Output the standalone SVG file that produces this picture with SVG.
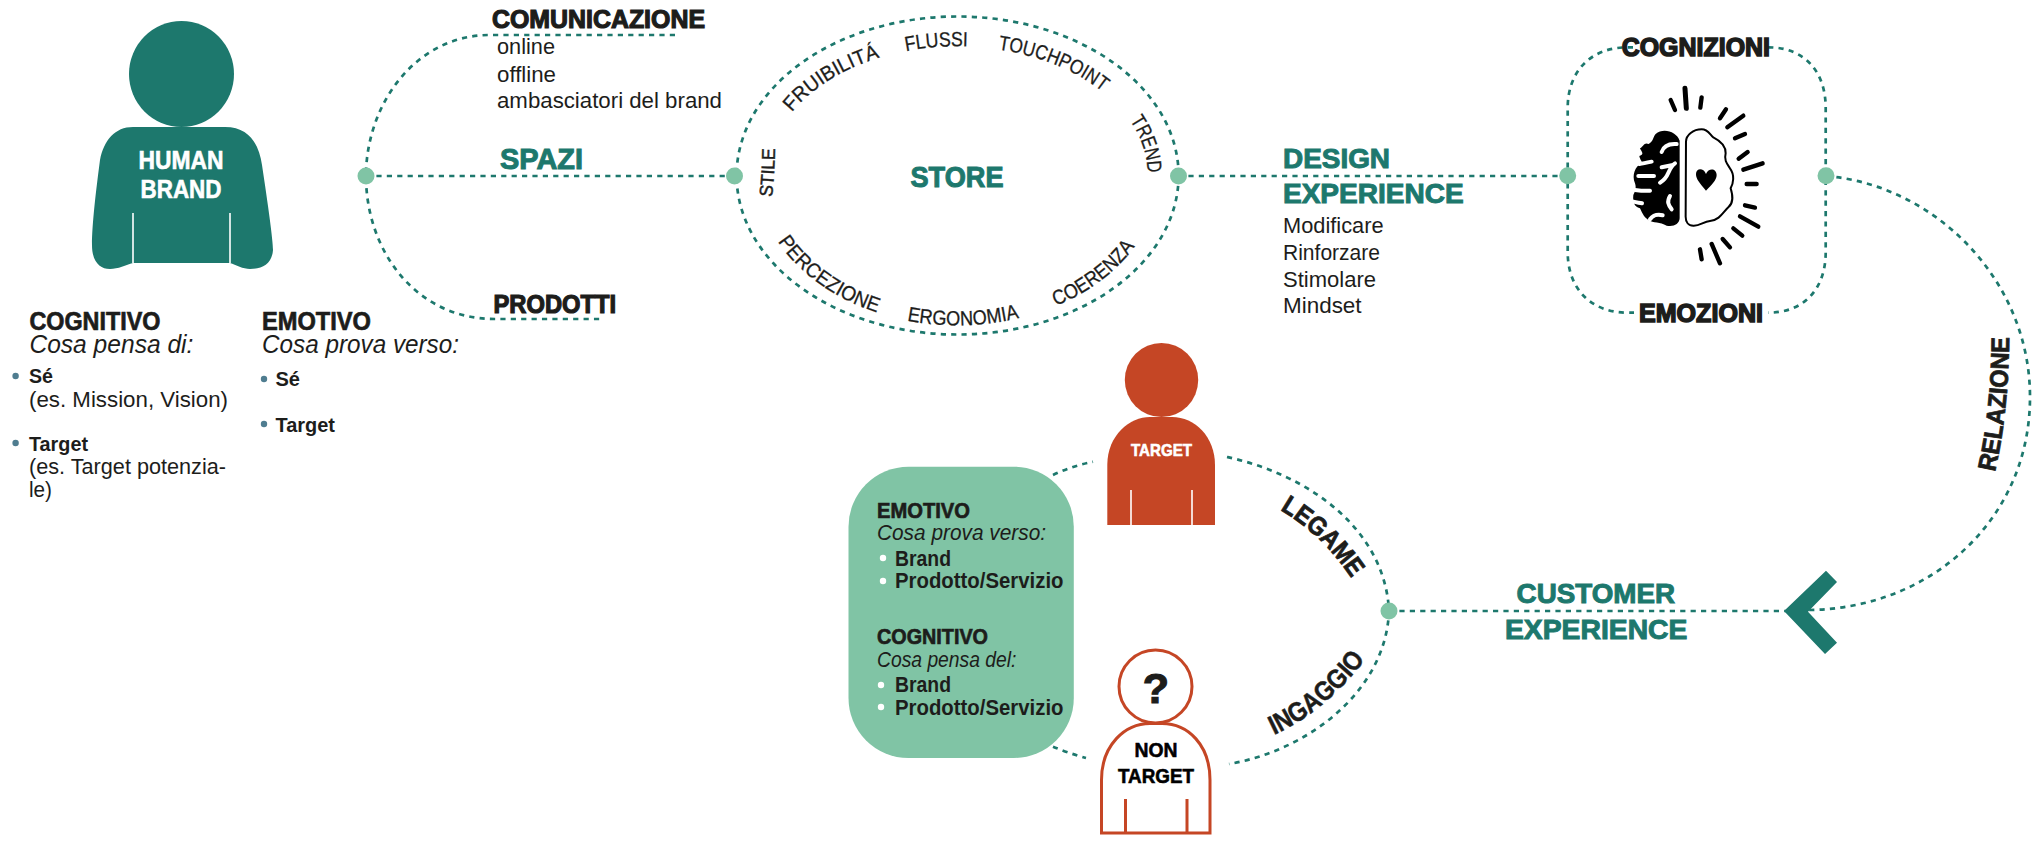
<svg xmlns="http://www.w3.org/2000/svg" xmlns:xlink="http://www.w3.org/1999/xlink" width="2034" height="842" viewBox="0 0 2034 842">
<style>
text{font-family:"Liberation Sans Narrow","Liberation Sans",Arial,sans-serif;fill:#1d1d1b}
.d{fill:none;stroke:#1d786d;stroke-width:2.7;stroke-dasharray:5.2 5.2}
.n{fill:#80c4a5}
.h{font-weight:bold;stroke:#1d1d1b;stroke-width:.7}
.hv{font-family:"Liberation Sans",Arial,sans-serif;font-weight:bold;stroke:#1d1d1b;stroke-width:1.2;font-size:25.5px}
.t{font-family:"Liberation Sans",Arial,sans-serif;font-weight:bold;fill:#1d786d;stroke:#1d786d;stroke-width:1}
.b{font-weight:bold}
.r{font-size:22px}
.i{font-style:italic;font-size:25.5px}
.c{font-size:20.5px;stroke:#1d1d1b;stroke-width:.3}
.w{fill:#fff;stroke:#fff;stroke-width:.6;font-weight:bold;text-anchor:middle}
.bl{fill:#4f7d90}
.bw{fill:#fff}
.o{fill:#c54625}
</style>
<defs>
<path id="pFr" d="M792,112.3 A190,129 0 0 1 892,54"/>
<path id="pFl" d="M906,51.3 A190,129 0 0 1 975,46.6"/>
<path id="pTo" d="M998,49.5 A190,129 0 0 1 1112,100"/>
<path id="pTr" d="M1130,120.6 A190,129 0 0 1 1147.6,180"/>
<path id="pSt" d="M772,197 Q775,172 775,140"/>
<path id="pPe" d="M778,241.6 A200,150 0 0 0 885,315"/>
<path id="pEr" d="M907,320.6 A200,150 0 0 0 1030,315"/>
<path id="pCo" d="M1056,306 A200,150 0 0 0 1145,230"/>
<path id="pRe" d="M1995,472 Q2010,405 2009,325"/>
<path id="pLe" d="M1280,510 Q1324,535 1356,585"/>
<path id="pIn" d="M1274,735 Q1332,708 1372,650"/>
</defs>
<g id="connectors">
<path class="d" d="M675,35 H490 C415,35 366,105 366,176 C366,250 415,319 495,319 H604"/>
<path class="d" d="M366,176 H735"/>
<ellipse class="d" cx="957.6" cy="175.5" rx="221" ry="159"/>
<path class="d" d="M1178,176 H1568"/>
<path class="d" d="M1633,47.3 H1628 C1590,47.3 1567.7,72 1567.7,108 V252 C1567.7,288 1590,312.7 1628,312.7 H1634"/>
<path class="d" d="M1768,47.3 C1805,47.3 1825.7,72 1825.7,108 V252 C1825.7,288 1805,312.7 1768,312.7"/>
<path class="d" d="M1826,176 C1935,185 2030,280 2030,397 C2030,520 1930,610 1806,610"/>
<path class="d" d="M1389,611 H1790"/>
<path class="d" d="M1227,457 C1310,475 1385,530 1389,611 C1386,690 1310,750 1229,764"/>
<path class="d" d="M1053,475 Q1072,466 1093,461.7"/>
<path class="d" d="M1053,746.7 Q1068,753 1086,758"/>
<polygon id="chevron" points="1826,570.7 1837,582 1808,611.7 1837,642.7 1825,654 1784,611" fill="#1d786d"/>
<circle class="n" cx="366" cy="176" r="8.5"/>
<circle class="n" cx="734.5" cy="176" r="8.5"/>
<circle class="n" cx="1178.5" cy="176" r="8.5"/>
<circle class="n" cx="1567.7" cy="175.7" r="8.5"/>
<circle class="n" cx="1826" cy="175.7" r="8.5"/>
<circle class="n" cx="1389" cy="611" r="8.5"/>
</g>
<g id="human-brand">
<ellipse cx="181.5" cy="74" rx="52.5" ry="53" fill="#1d786d"/>
<path fill="#1d786d" d="M133,127 H225 C250,127 259,145 262,165 C268,205 273,240 273,250 C272,264 262,269 250,269 C243,269 236,265 230,263 H133 C126,265 118,269 110,269 C100,269 92,262 92,245 C92,225 96,190 100,160 C104,140 115,127 133,127Z"/>
<path d="M133,213 V263 M230,213 V263" stroke="#fff" stroke-width="1.6" fill="none"/>
<text class="w" x="181" y="169" font-size="25" textLength="85" lengthAdjust="spacingAndGlyphs">HUMAN</text>
<text class="w" x="181" y="198" font-size="25" textLength="81" lengthAdjust="spacingAndGlyphs">BRAND</text>
</g>
<g id="human-text">
<text class="h" x="29.4" y="330" font-size="25.5" textLength="131" lengthAdjust="spacingAndGlyphs">COGNITIVO</text>
<text class="i" x="29.4" y="352.7" textLength="164" lengthAdjust="spacingAndGlyphs">Cosa pensa di:</text>
<circle class="bl" cx="15.6" cy="376" r="3.2"/>
<text class="b" x="29" y="383" font-size="21" textLength="24" lengthAdjust="spacingAndGlyphs">Sé</text>
<text class="r" x="29" y="406.7" textLength="199" lengthAdjust="spacingAndGlyphs">(es. Mission, Vision)</text>
<circle class="bl" cx="15.6" cy="443" r="3.2"/>
<text class="b" x="29" y="451" font-size="21" textLength="59" lengthAdjust="spacingAndGlyphs">Target</text>
<text class="r" x="29" y="474" textLength="197" lengthAdjust="spacingAndGlyphs">(es. Target potenzia-</text>
<text class="r" x="29" y="497" textLength="23" lengthAdjust="spacingAndGlyphs">le)</text>
<text class="h" x="262" y="330" font-size="25.5" textLength="109" lengthAdjust="spacingAndGlyphs">EMOTIVO</text>
<text class="i" x="262" y="352.7" textLength="197" lengthAdjust="spacingAndGlyphs">Cosa prova verso:</text>
<circle class="bl" cx="264" cy="379" r="3.2"/>
<text class="b" x="275.5" y="386" font-size="21" textLength="24.5" lengthAdjust="spacingAndGlyphs">Sé</text>
<circle class="bl" cx="264" cy="424" r="3.2"/>
<text class="b" x="275.5" y="432" font-size="21" textLength="59.5" lengthAdjust="spacingAndGlyphs">Target</text>
</g>
<g id="comunicazione">
<text class="hv" x="492" y="28" textLength="213" lengthAdjust="spacingAndGlyphs">COMUNICAZIONE</text>
<text class="r" x="497" y="54" textLength="58" lengthAdjust="spacingAndGlyphs">online</text>
<text class="r" x="497" y="81.7" textLength="59" lengthAdjust="spacingAndGlyphs">offline</text>
<text class="r" x="497" y="108" textLength="225" lengthAdjust="spacingAndGlyphs">ambasciatori del brand</text>
</g>
<g id="spazi"><text class="t" x="500" y="169" font-size="29" textLength="83" lengthAdjust="spacingAndGlyphs">SPAZI</text></g>
<g id="prodotti"><text class="hv" x="493.5" y="313" textLength="122.5" lengthAdjust="spacingAndGlyphs">PRODOTTI</text></g>
<g id="store">
<text class="t" x="910.5" y="187" font-size="29" textLength="93" lengthAdjust="spacingAndGlyphs">STORE</text>
<text class="c"><textPath href="#pFr" textLength="105" lengthAdjust="spacingAndGlyphs">FRUIBILITÁ</textPath></text>
<text class="c"><textPath href="#pFl" textLength="62" lengthAdjust="spacingAndGlyphs">FLUSSI</textPath></text>
<text class="c"><textPath href="#pTo" textLength="114" lengthAdjust="spacingAndGlyphs">TOUCHPOINT</textPath></text>
<text class="c"><textPath href="#pTr" textLength="56" lengthAdjust="spacingAndGlyphs">TREND</textPath></text>
<text class="c" style="font-family:'Liberation Sans',sans-serif;font-size:18.5px;stroke-width:.5"><textPath href="#pSt" textLength="49" lengthAdjust="spacingAndGlyphs">STILE</textPath></text>
<text class="c"><textPath href="#pPe" textLength="124" lengthAdjust="spacingAndGlyphs">PERCEZIONE</textPath></text>
<text class="c"><textPath href="#pEr" textLength="113" lengthAdjust="spacingAndGlyphs">ERGONOMIA</textPath></text>
<text class="c"><textPath href="#pCo" textLength="100" lengthAdjust="spacingAndGlyphs">COERENZA</textPath></text>
</g>
<g id="design-experience">
<text class="t" x="1283" y="167.7" font-size="28" textLength="107" lengthAdjust="spacingAndGlyphs">DESIGN</text>
<text class="t" x="1283" y="203" font-size="28" textLength="180.6" lengthAdjust="spacingAndGlyphs">EXPERIENCE</text>
<text class="r" x="1283" y="232.7" textLength="100.6" lengthAdjust="spacingAndGlyphs">Modificare</text>
<text class="r" x="1283" y="259.7" textLength="97" lengthAdjust="spacingAndGlyphs">Rinforzare</text>
<text class="r" x="1283" y="286.7" textLength="93" lengthAdjust="spacingAndGlyphs">Stimolare</text>
<text class="r" x="1283" y="313" textLength="78.6" lengthAdjust="spacingAndGlyphs">Mindset</text>
</g>
<g id="mind">
<text class="hv" x="1621.7" y="55.7" textLength="148.3" lengthAdjust="spacingAndGlyphs" style="stroke-width:1.5">COGNIZIONI</text>
<text class="hv" x="1639" y="321.7" textLength="124" lengthAdjust="spacingAndGlyphs" style="stroke-width:1.5">EMOZIONI</text>
<g id="brain" transform="translate(1520,20) scale(.3333)">
<path fill="#000" d="M479,362 C470,335 430,322 407,342 C398,352 402,362 386,372 C372,366 372,378 360,385 C364,395 375,403 358,408 C360,420 368,425 365,430 C345,440 335,465 345,490 C350,505 345,515 340,525 C338,545 342,560 360,565 C365,575 370,590 385,600 C400,610 420,605 440,617 C460,622 478,612 479,595Z"/>
<g fill="none" stroke="#fff" stroke-width="12" stroke-linecap="round">
<path d="M425,396 C430,380 445,370 470,372"/>
<path d="M420,488 C450,472 442,445 465,430 M425,442 L455,436"/>
<path d="M355,468 H402"/>
<path d="M345,510 C360,512 375,514 390,512"/>
<path d="M358,432 C370,430 380,428 395,425"/>
<path d="M450,528 C440,545 445,555 455,568"/>
<path d="M390,598 C400,585 410,582 428,586"/>
<path d="M340,545 C352,548 358,548 366,550"/>
</g>
<path fill="none" stroke="#000" stroke-width="6" d="M498,365 C498,345 520,328 545,328 C565,328 570,345 580,352 C600,362 618,375 617,400 C612,420 620,430 630,445 C645,465 640,490 632,505 C640,530 640,550 625,562 C610,575 600,600 570,603 C550,605 540,618 520,617 C505,617 497,605 497,590 Z"/>
<path fill="#000" d="M558,512 C540,490 528,478 528,462 C528,445 550,442 558,462 C566,442 590,445 590,465 C590,480 575,495 558,512Z"/>
<g fill="none" stroke="#000" stroke-width="13" stroke-linecap="round">
<path d="M452,240 L465,270"/><path d="M495,205 L499,265" stroke-width="15"/><path d="M545,232 L541,263"/>
<path d="M618,268 L600,295"/><path d="M670,287 L622,322"/><path d="M675,342 L645,355"/>
<path d="M683,396 L656,416"/><path d="M728,430 L670,449"/><path d="M710,492 L680,492"/>
<path d="M705,563 L675,556"/><path d="M715,620 L660,589"/><path d="M667,647 L640,625"/>
<path d="M630,682 L608,657"/><path d="M600,730 L575,672"/><path d="M545,718 L540,688"/>
</g>
</g>
</g>
<g id="relazione"><text class="h" font-size="25.5" style="stroke-width:.8"><textPath href="#pRe" textLength="136" lengthAdjust="spacingAndGlyphs">RELAZIONE</textPath></text></g>
<g id="customer-experience">
<text class="t" x="1516.6" y="602.7" font-size="28" textLength="158.4" lengthAdjust="spacingAndGlyphs">CUSTOMER</text>
<text class="t" x="1505" y="638.7" font-size="28" textLength="182.4" lengthAdjust="spacingAndGlyphs">EXPERIENCE</text>
</g>
<g id="target">
<ellipse class="o" cx="1161.5" cy="380" rx="36.7" ry="37"/>
<path class="o" d="M1107.3,525 V465 C1107.3,435 1130,417 1150,417 H1172 C1195,417 1215,437 1215,465 V525Z"/>
<path d="M1131,490 V525 M1192,490 V525" stroke="#fff" stroke-width="1.6" fill="none"/>
<text class="w" x="1161.5" y="456" font-size="17" textLength="61" lengthAdjust="spacingAndGlyphs">TARGET</text>
</g>
<g id="legame"><text class="h" font-size="26" style="stroke-width:.8"><textPath href="#pLe" textLength="100" lengthAdjust="spacingAndGlyphs">LEGAME</textPath></text></g>
<g id="ingaggio"><text class="h" font-size="27" style="stroke-width:.5"><textPath href="#pIn" textLength="120" lengthAdjust="spacingAndGlyphs">INGAGGIO</textPath></text></g>
<g id="box">
<rect x="848.5" y="466.7" width="225.3" height="291.3" rx="60" ry="60" class="n"/>
<text class="h" x="877" y="517.7" font-size="22.5" textLength="93" lengthAdjust="spacingAndGlyphs">EMOTIVO</text>
<text class="r" font-style="italic" x="877" y="540" textLength="169" lengthAdjust="spacingAndGlyphs">Cosa prova verso:</text>
<circle class="bw" cx="883" cy="558" r="3.2"/>
<text class="b r" x="895" y="565.7" textLength="56" lengthAdjust="spacingAndGlyphs">Brand</text>
<circle class="bw" cx="883" cy="581" r="3.2"/>
<text class="b r" x="895" y="588" textLength="168.5" lengthAdjust="spacingAndGlyphs">Prodotto/Servizio</text>
<text class="h" x="877" y="644" font-size="22.5" textLength="111" lengthAdjust="spacingAndGlyphs">COGNITIVO</text>
<text class="r" font-style="italic" x="877" y="666.7" textLength="139.4" lengthAdjust="spacingAndGlyphs">Cosa pensa del:</text>
<circle class="bw" cx="881" cy="685" r="3.2"/>
<text class="b r" x="895" y="691.7" textLength="56" lengthAdjust="spacingAndGlyphs">Brand</text>
<circle class="bw" cx="881" cy="707" r="3.2"/>
<text class="b r" x="895" y="715" textLength="168.5" lengthAdjust="spacingAndGlyphs">Prodotto/Servizio</text>
</g>
<g id="non-target">
<ellipse cx="1155.5" cy="686.5" rx="36.5" ry="36.5" fill="#fff" stroke="#c54625" stroke-width="3"/>
<text x="1156" y="703" font-size="43" font-weight="bold" text-anchor="middle" stroke="#1d1d1b" stroke-width="1.2" style="font-family:'Liberation Sans',sans-serif">?</text>
<path fill="none" stroke="#c54625" stroke-width="3" d="M1101.5,833 V780 C1101.5,745 1125,723.5 1150,723.5 H1162 C1188,723.5 1210,745 1210,780 V833Z M1125.5,799 V833 M1187,799 V833"/>
<text x="1156" y="757" font-size="21" font-weight="bold" stroke="#000" stroke-width=".6" text-anchor="middle" textLength="43" lengthAdjust="spacingAndGlyphs" style="fill:#000">NON</text>
<text x="1156" y="783" font-size="21" font-weight="bold" stroke="#000" stroke-width=".6" text-anchor="middle" textLength="76" lengthAdjust="spacingAndGlyphs" style="fill:#000">TARGET</text>
</g>
</svg>
